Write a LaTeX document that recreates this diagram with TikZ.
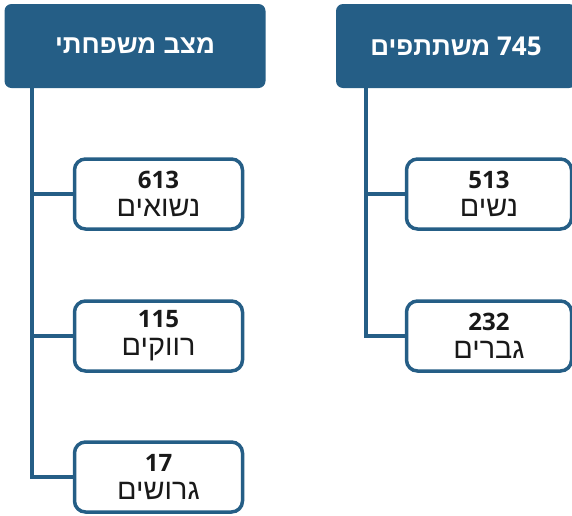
\documentclass[tikz,border=0pt]{standalone}
\usepackage{fontspec}
\setmainfont{Open Sans}
\newfontfamily\hebfont[Script=Hebrew]{Liberation Sans}
\newfontfamily\hebitemfont[Script=Hebrew,Scale=1.2]{Liberation Sans}
\TeXXeTstate=1
\definecolor{navy}{HTML}{255E86}
\newcommand{\heb}[1]{{\hebfont\bfseries\beginR #1\endR}}
\newcommand{\hebi}[1]{{\hebitemfont\mdseries\beginR #1\endR}}
\begin{document}
\begin{tikzpicture}[x=1pt,y=-1pt,
  header/.style={draw=none,fill=navy,rounded corners=7pt,text=white,font=\bfseries\fontsize{26}{30}\selectfont},
  item/.style={draw=navy,line width=3.5pt,fill=white,rounded corners=11pt,align=center,text=black!90,font=\bfseries\fontsize{24}{28}\selectfont},
  link/.style={draw=navy,line width=4pt}]
\useasboundingbox (0,0) rectangle (572,515);
% headers
\node[header,minimum width=261pt,minimum height=84pt] (hL) at (135,46) {\heb{מצב משפחתי}};
\node[header,minimum width=240pt,minimum height=84pt] (hR) at (456,46) {\heb{משתתפים} 745};
% left items
\node[item,minimum width=168pt,minimum height=70pt] (l1) at (158.5,194) {613\\\hebi{נשואים}};
\node[item,minimum width=168pt,minimum height=70pt] (l2) at (158.5,336) {115\\\hebi{רווקים}};
\node[item,minimum width=168pt,minimum height=70pt] (l3) at (158.5,477) {17\\\hebi{גרושים}};
% right items
\node[item,minimum width=165pt,minimum height=70pt] (r1) at (489,194) {513\\\hebi{נשים}};
\node[item,minimum width=165pt,minimum height=70pt] (r2) at (489,336) {232\\\hebi{גברים}};
% connectors
\coordinate (lt) at (32,88);
\coordinate (rt) at (366,88);
\draw[link] (lt) |- (l3.west);
\draw[link] (lt |- l1.west) -- (l1.west);
\draw[link] (lt |- l2.west) -- (l2.west);
\draw[link] (rt) |- (r2.west);
\draw[link] (rt |- r1.west) -- (r1.west);
\end{tikzpicture}
\end{document}
